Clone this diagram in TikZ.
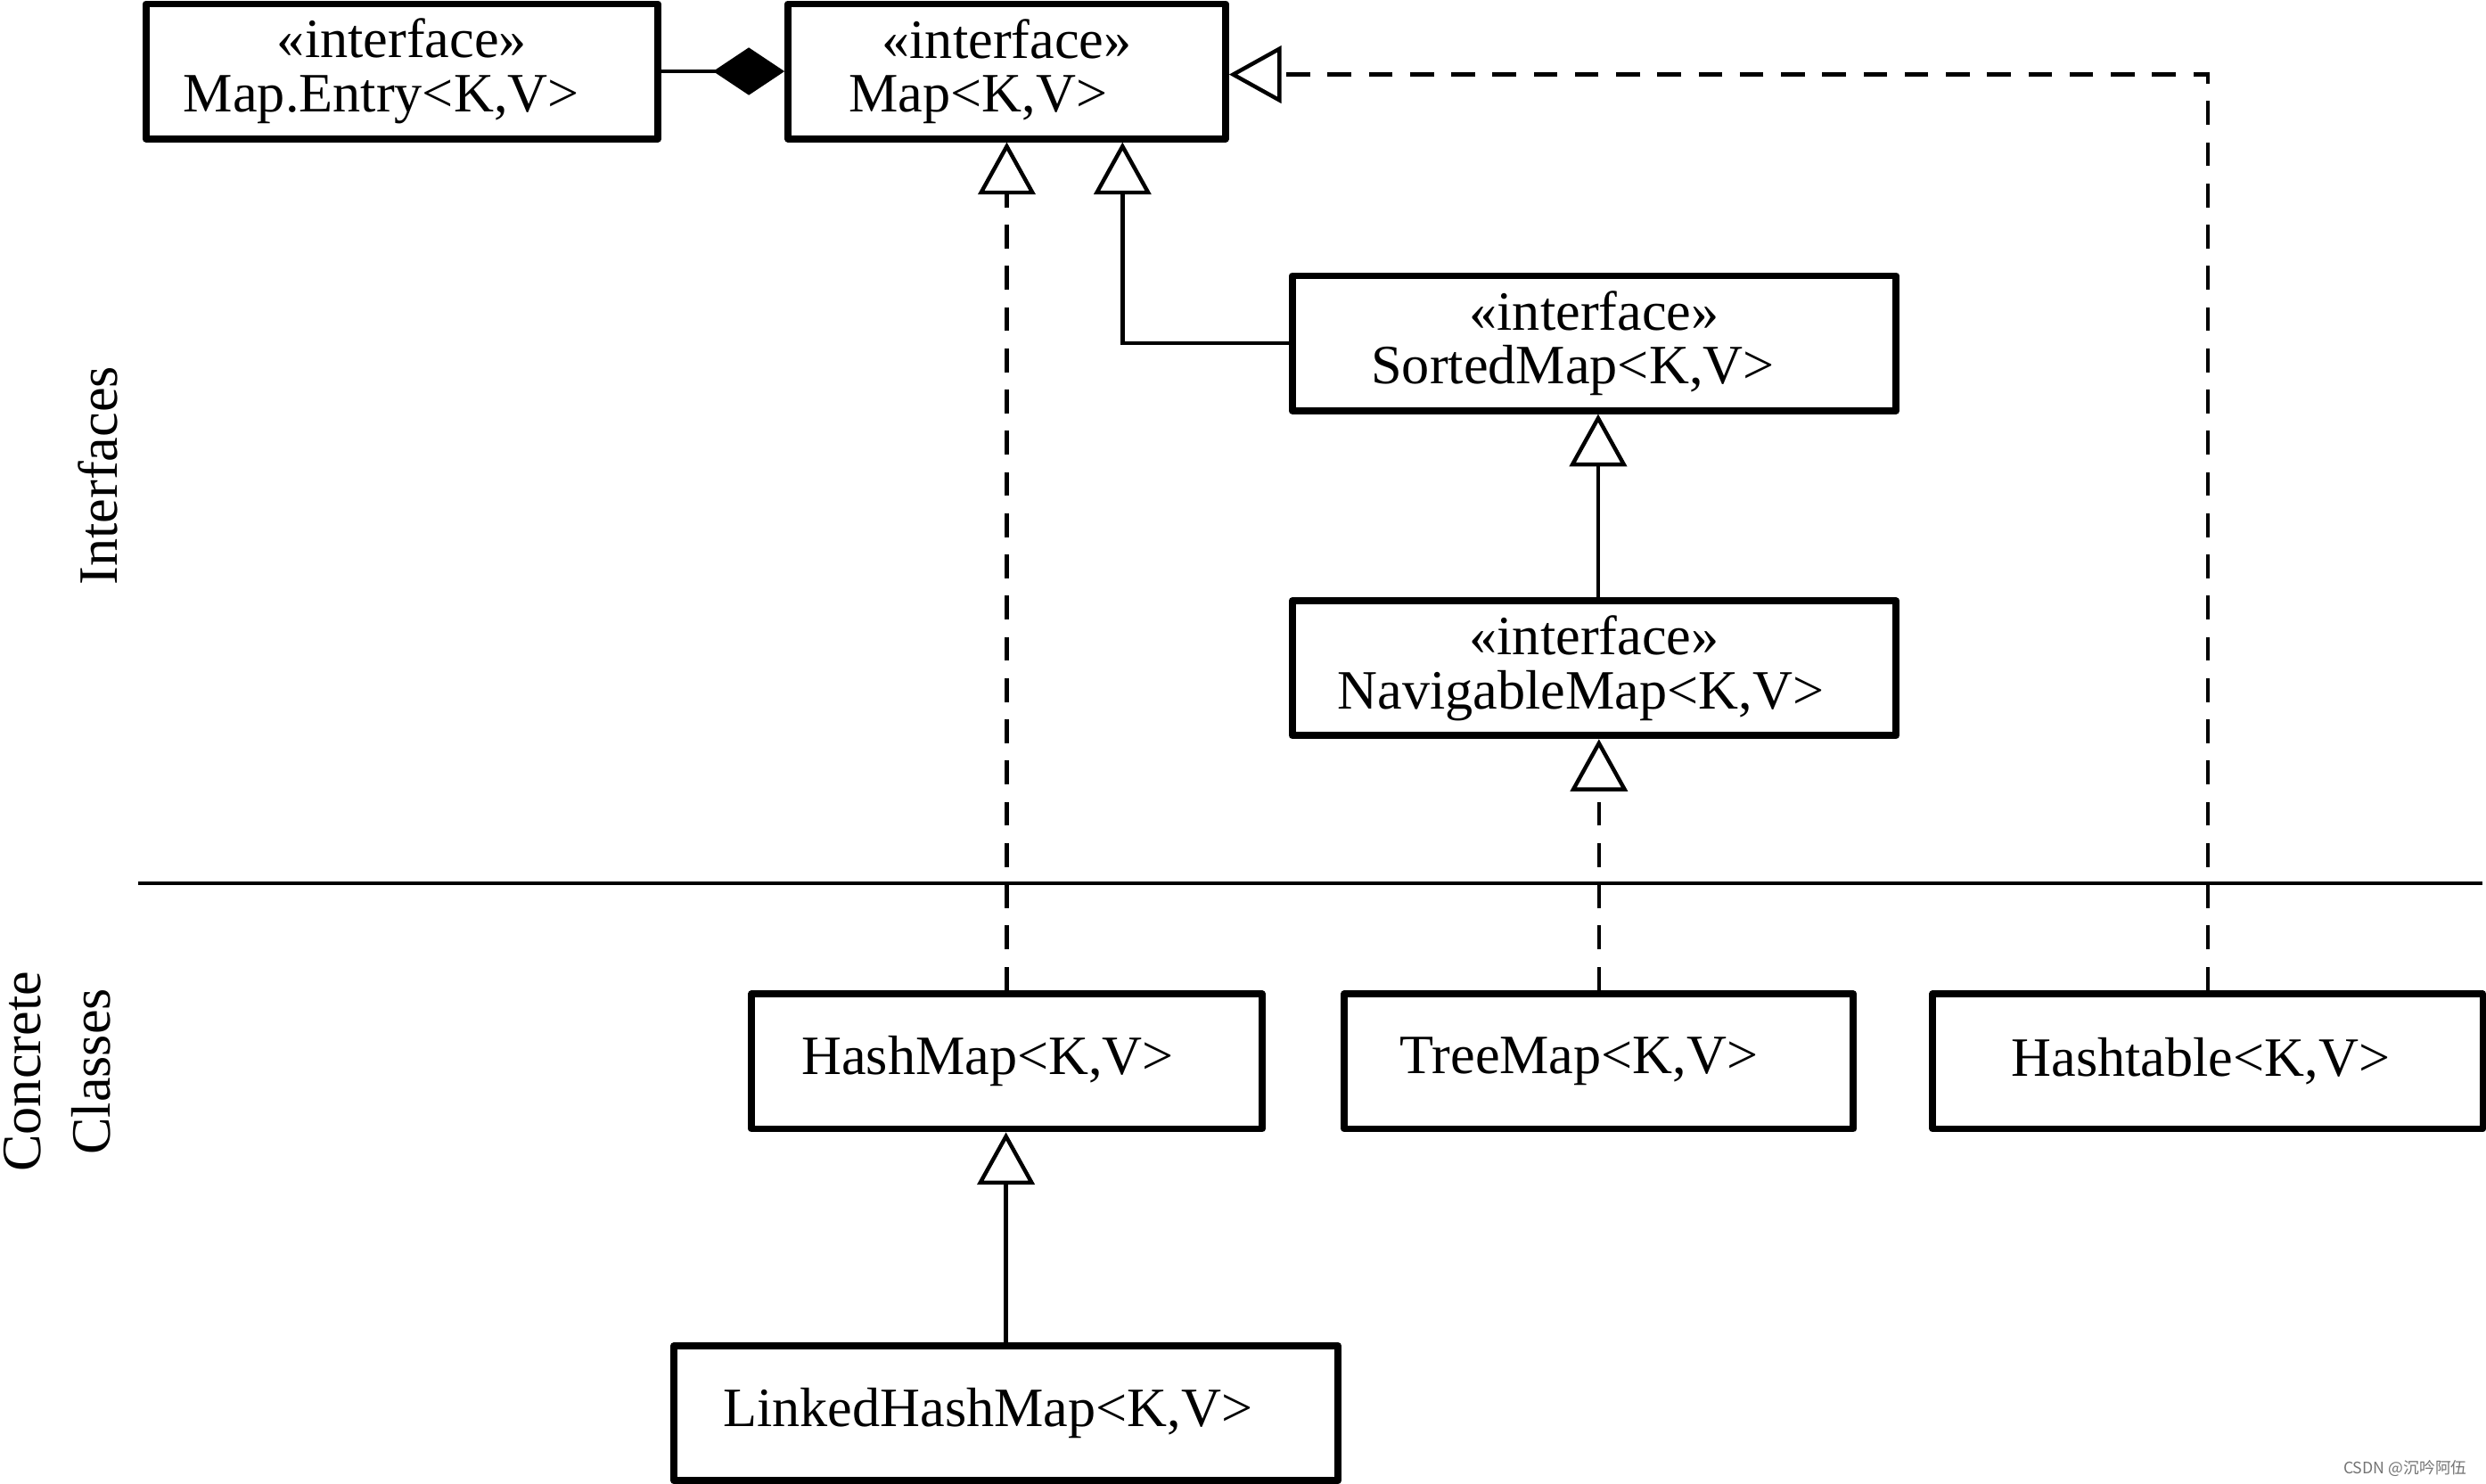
\documentclass[tikz,border=0pt]{standalone}
\usepackage{fontspec}
\setmainfont{Liberation Serif}
\newfontfamily\cjkfont{Noto Sans CJK SC}
\usetikzlibrary{arrows.meta}
\begin{document}
\begin{tikzpicture}[x=0.5pt,y=-0.5pt,
  box/.style={draw, line width=2.2pt, line join=round, inner sep=0pt, align=center,
    font=\fontsize{17.5}{17}\selectfont, minimum height=42.5pt},
  gen/.style={line width=1.25pt, -{Triangle[open,fill=white,length=16.5pt,width=18pt]}},
  real/.style={gen, dash pattern=on 7.5pt off 5.5pt},
  comp/.style={line width=1.25pt, -{Diamond[length=22.5pt,width=15pt]}},
  lbl/.style={font=\fontsize{17.5}{22}\selectfont, rotate=90, align=center}]
\useasboundingbox (0,0) rectangle (1568,936);

% boxes
\node[box, minimum width=161.5pt] (entry) at (253.5,45) {«interface»\\Map.Entry<K,V>\hbox to 13pt{}};
\node[box, minimum width=138pt] (map) at (635,45) {«interface»\\Map<K,V>\hbox to 18pt{}};
\node[box, minimum width=190.5pt] (sorted) at (1005.5,216.5) {«interface»\\SortedMap<K,V>\hbox to 13.5pt{}};
\node[box, minimum width=190.5pt] (nav) at (1005.5,421.5) {«interface»\\NavigableMap<K,V>\hbox to 8.5pt{}};
\node[box, minimum width=161pt] (hash) at (635,669.5) {HashMap<K,V>\hbox to 12pt{}};
\node[box, minimum width=160.5pt] (tree) at (1008.5,669.5) {TreeMap<K,V>\hbox to 12.5pt{}};
\node[box, minimum width=173.5pt] (table) at (1392.5,669.5) {Hashtable<K,V>\hbox to 4.5pt{}};
\node[box, minimum width=209.5pt] (linked) at (634.5,891.5) {LinkedHashMap<K,V>\hbox to 11.5pt{}};

% side labels
\node[lbl] (ifl) at (62,300) {Interfaces};
\node[lbl] (ccl) at (36,676) {Concrete\\Classes};

% separator
\coordinate (sepL) at (87,557);
\coordinate (sepR) at (1566,557);
\draw[line width=1.25pt] (sepL) -- (sepR);

% connectors
\draw[comp] (entry.east) -- (map.west);
\draw[real] (hash.north) -- (hash.north |- map.south);
\draw[gen] (sorted.west) -| ([xshift=36.5pt]map.south);
\draw[gen] ([xshift=1.25pt]nav.north) -- ([xshift=1.25pt]sorted.south);
\draw[real] (tree.north) -- (tree.north |- nav.south);
\draw[real] (table.north) |- ([yshift=-1pt]map.east);
\draw[gen] (linked.north) -- (linked.north |- hash.south);

% watermark
\node[text=black!55, font=\cjkfont\fontsize{5}{6}\selectfont, anchor=east] (wm) at (1563,926) {CSDN @沉吟阿伍};
\end{tikzpicture}
\end{document}
